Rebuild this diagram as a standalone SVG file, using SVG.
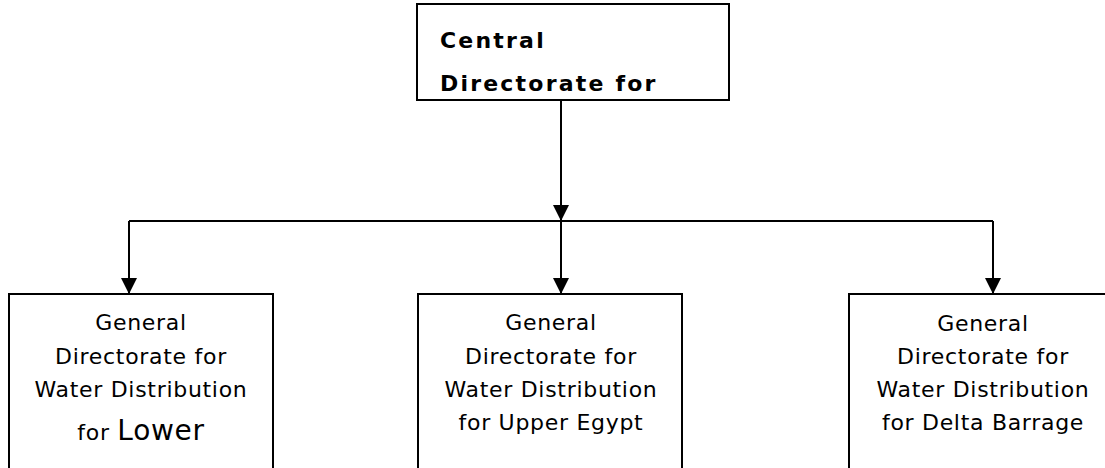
<svg xmlns="http://www.w3.org/2000/svg" width="1105" height="468" viewBox="0 0 1105 468">
<style>
.box{fill:#fff;stroke:#000;stroke-width:2}
.t{font-family:"DejaVu Sans",sans-serif;font-size:22px;letter-spacing:0.7px;fill:#000;text-anchor:middle}
.b{font-family:"DejaVu Sans",sans-serif;font-size:22px;letter-spacing:2.2px;font-weight:bold;fill:#000}
.c{stroke:#000;stroke-width:2;fill:none}
</style>
<defs>
<marker id="ah" markerUnits="userSpaceOnUse" markerWidth="16" markerHeight="16" viewBox="0 0 16 16" refX="16" refY="8" orient="auto">
<path d="M0,0 L16,8 L0,16 Z" fill="#000"/>
</marker>
</defs>
<rect width="1105" height="468" fill="#fff"/>
<g id="connectors">
<line class="c" x1="561" y1="100" x2="561" y2="221" marker-end="url(#ah)"/>
<polyline class="c" points="129,221 993,221"/>
<line class="c" x1="129" y1="221" x2="129" y2="294" marker-end="url(#ah)"/>
<line class="c" x1="561" y1="221" x2="561" y2="294" marker-end="url(#ah)"/>
<line class="c" x1="993" y1="221" x2="993" y2="294" marker-end="url(#ah)"/>
</g>
<g id="central">
<rect class="box" x="417" y="4" width="312" height="96"/>
<text class="b" x="440" y="48">Central</text>
<text class="b" x="440" y="91">Directorate for</text>
</g>
<g id="lower">
<rect class="box" x="9" y="294" width="264" height="200"/>
<text class="t" x="141" y="330">General</text>
<text class="t" x="141" y="364">Directorate for</text>
<text class="t" x="141" y="397">Water Distribution</text>
<text class="t" x="141" y="440">for <tspan font-size="28">Lower</tspan></text>
</g>
<g id="upper">
<rect class="box" x="418" y="294" width="264" height="200"/>
<text class="t" x="551" y="330">General</text>
<text class="t" x="551" y="364">Directorate for</text>
<text class="t" x="551" y="397">Water Distribution</text>
<text class="t" x="551" y="430">for Upper Egypt</text>
</g>
<g id="delta">
<rect class="box" x="849" y="294" width="300" height="200"/>
<text class="t" x="983" y="331">General</text>
<text class="t" x="983" y="364">Directorate for</text>
<text class="t" x="983" y="397">Water Distribution</text>
<text class="t" x="983" y="430">for Delta Barrage</text>
</g>
</svg>
